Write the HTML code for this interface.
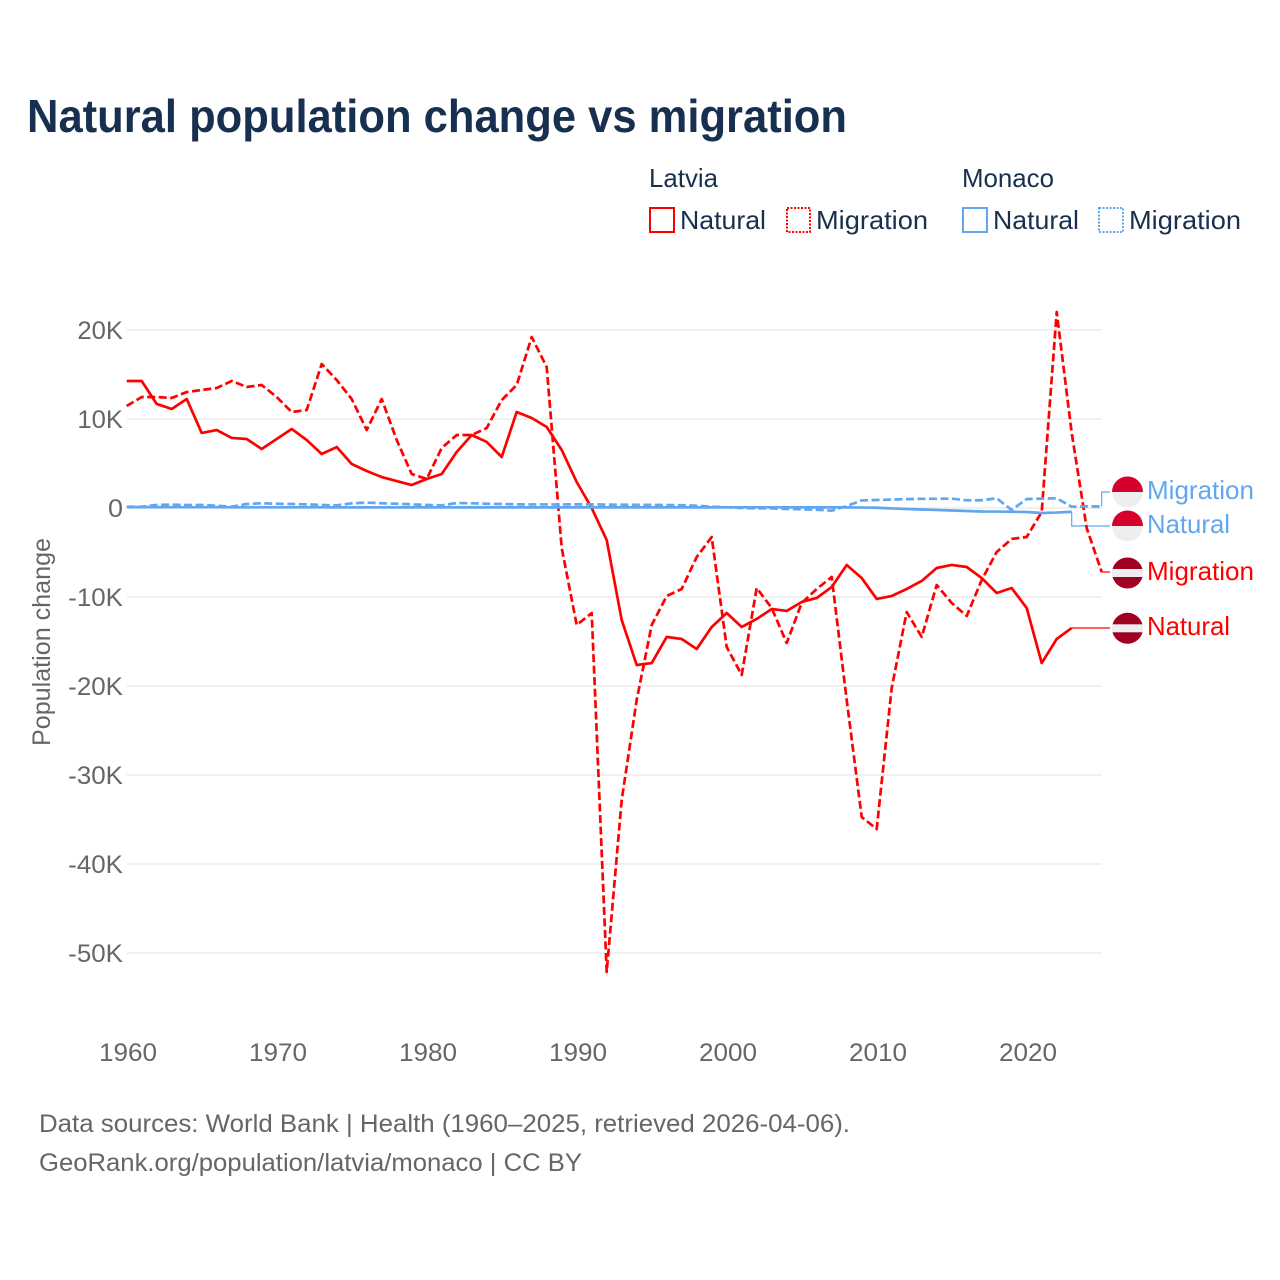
<!DOCTYPE html>
<html lang="en">
<head>
<meta charset="utf-8">
<title>Natural population change vs migration</title>
<style>
html,body{margin:0;padding:0;background:#fff;}
svg{display:block;font-family:"Liberation Sans",sans-serif;}
</style>
</head>
<body>
<svg id="chart" xmlns="http://www.w3.org/2000/svg" width="1280" height="1280" viewBox="0 0 1280 1280">
  <rect width="1280" height="1280" fill="#fff"/>
  <text x="27" y="132" font-size="46" font-weight="700" fill="#18304f" textLength="820" lengthAdjust="spacingAndGlyphs">Natural population change vs migration</text>

  <g font-size="26" fill="#18304f">
    <text x="649" y="187" textLength="69" lengthAdjust="spacingAndGlyphs">Latvia</text>
    <text x="962" y="187" textLength="92" lengthAdjust="spacingAndGlyphs">Monaco</text>
    <g>
      <rect x="650" y="208" width="24" height="24" fill="none" stroke="#ff0000" stroke-width="2"/>
      <text x="680" y="229" textLength="86" lengthAdjust="spacingAndGlyphs">Natural</text>
    </g>
    <g>
      <rect x="787" y="208" width="23" height="24" fill="none" stroke="#ff0000" stroke-width="2" stroke-dasharray="2 1.5"/>
      <text x="816" y="229" textLength="112" lengthAdjust="spacingAndGlyphs">Migration</text>
    </g>
    <g>
      <rect x="963" y="208" width="24" height="24" fill="none" stroke="#62a6ef" stroke-width="2"/>
      <text x="993" y="229" textLength="86" lengthAdjust="spacingAndGlyphs">Natural</text>
    </g>
    <g>
      <rect x="1099" y="208" width="24" height="24" fill="none" stroke="#62a6ef" stroke-width="2" stroke-dasharray="2 1.5"/>
      <text x="1129" y="229" textLength="112" lengthAdjust="spacingAndGlyphs">Migration</text>
    </g>
  </g>

  <g id="grid"></g>
  <g id="yticks" font-size="25" fill="#666"></g>
  <g id="xticks" font-size="25" fill="#666"></g>
  <text transform="translate(50,746) rotate(-90)" font-size="25" fill="#666" textLength="208" lengthAdjust="spacingAndGlyphs">Population change</text>

  <g id="series"></g>

  <g font-size="26">
    <g>
      <circle cx="1127.5" cy="492" r="15.5" fill="#eeeeee"/>
      <path d="M1112 492a15.5 15.5 0 0 1 31 0z" fill="#d6002c"/>
      <text x="1147" y="499" fill="#62a6ef" textLength="107" lengthAdjust="spacingAndGlyphs">Migration</text>
    </g>
    <g>
      <circle cx="1127.5" cy="526" r="15.5" fill="#eeeeee"/>
      <path d="M1112 526a15.5 15.5 0 0 1 31 0z" fill="#d6002c"/>
      <text x="1147" y="533" fill="#62a6ef" textLength="83" lengthAdjust="spacingAndGlyphs">Natural</text>
    </g>
    <g>
      <circle cx="1127.5" cy="573" r="15.5" fill="#a00022"/>
      <rect x="1112" y="569" width="31" height="8" fill="#eeeeee"/>
      <text x="1147" y="580" fill="#ff0000" textLength="107" lengthAdjust="spacingAndGlyphs">Migration</text>
    </g>
    <g>
      <circle cx="1127.5" cy="628.3" r="15.5" fill="#a00022"/>
      <rect x="1112" y="624.3" width="31" height="8" fill="#eeeeee"/>
      <text x="1147" y="635" fill="#ff0000" textLength="83" lengthAdjust="spacingAndGlyphs">Natural</text>
    </g>
  </g>

  <g font-size="25" fill="#666">
    <text x="39" y="1132" textLength="811" lengthAdjust="spacingAndGlyphs">Data sources: World Bank | Health (1960–2025, retrieved 2026-04-06).</text>
    <text x="39" y="1171" textLength="543" lengthAdjust="spacingAndGlyphs">GeoRank.org/population/latvia/monaco | CC BY</text>
  </g>
</svg>
<script>
const startYear = 1960;
const yTickValues = [20, 10, 0, -10, -20, -30, -40, -50];
const yTickLabels = ["20K", "10K", "0", "-10K", "-20K", "-30K", "-40K", "-50K"];
const xTickYears = [1960, 1970, 1980, 1990, 2000, 2010, 2020];

const latviaNatural = [14.27,14.27,11.69,11.12,12.25,8.43,8.76,7.87,7.75,6.63,
  7.75,8.88,7.64,6.07,6.85,4.94,4.16,3.48,3.03,2.58,
  3.26,3.82,6.29,8.2,7.42,5.73,10.79,10.11,9.1,6.52,
  2.92,0,-3.6,-12.58,-17.64,-17.42,-14.49,-14.72,-15.84,-13.37,
  -11.8,-13.37,-12.47,-11.35,-11.57,-10.56,-10.11,-8.88,-6.4,-7.87,
  -10.22,-9.89,-9.1,-8.2,-6.74,-6.4,-6.63,-7.87,-9.55,-8.99,
  -11.24,-17.42,-14.72,-13.48];

const latviaMigration = [11.46,12.47,12.47,12.36,13.03,13.26,13.48,14.27,13.6,13.82,
  12.47,10.79,11.01,16.18,14.38,12.25,8.76,12.25,7.64,3.82,
  3.26,6.74,8.2,8.2,8.99,12.13,13.82,19.21,15.84,-4.49,
  -13.15,-11.8,-52.13,-32.81,-21.57,-13.15,-9.89,-9.1,-5.51,-3.26,
  -15.62,-18.76,-8.99,-11.24,-15.17,-10.67,-9.1,-7.75,-21.57,-34.72,
  -36.07,-20.22,-11.69,-14.49,-8.65,-10.67,-12.13,-8.09,-4.94,-3.48,
  -3.26,-0.45,22.02,8.43,-2.25,-7.19];

const monacoNatural = [0.1,0.1,0.1,0.09,0.09,0.09,0.09,0.08,0.08,0.08,
  0.08,0.08,0.08,0.08,0.07,0.07,0.07,0.07,0.07,0.07,
  0.07,0.07,0.07,0.07,0.07,0.07,0.07,0.07,0.07,0.07,
  0.07,0.07,0.07,0.07,0.07,0.07,0.07,0.07,0.07,0.07,
  0.08,0.08,0.08,0.08,0.08,0.08,0.07,0.07,0.07,0.05,
  0.03,-0.05,-0.11,-0.17,-0.22,-0.28,-0.34,-0.39,-0.4,-0.42,
  -0.45,-0.56,-0.51,-0.42];

const monacoMigration = [0.15,0.15,0.34,0.37,0.34,0.34,0.26,0.15,0.45,0.53,
  0.48,0.45,0.41,0.34,0.3,0.53,0.6,0.53,0.48,0.41,
  0.34,0.3,0.56,0.53,0.48,0.45,0.41,0.4,0.4,0.4,
  0.41,0.4,0.38,0.37,0.36,0.35,0.33,0.31,0.25,0.15,
  0.08,0,-0.03,-0.05,-0.1,-0.15,-0.2,-0.3,0.22,0.85,
  0.9,0.95,1,1.03,1.03,1.05,0.87,0.87,1.09,-0.22,
  1.01,1.05,1.09,0.15,0.19,0.17];

const NS = "http://www.w3.org/2000/svg";
function xScale(year) { return 126.7 + (year - startYear) * 15; }
function yScale(value) { return 508 - value * 8.9; }

const gridGroup = document.getElementById("grid");
const yTickGroup = document.getElementById("yticks");
const xTickGroup = document.getElementById("xticks");
const seriesGroup = document.getElementById("series");

yTickValues.forEach(function (value, i) {
  const line = document.createElementNS(NS, "line");
  
  
  line.setAttribute("x1", xScale(1960));
  line.setAttribute("x2", xScale(2025));
  line.setAttribute("y1", yScale(value));
  line.setAttribute("y2", yScale(value));
  line.setAttribute("stroke", "#e7e7e7");
  line.setAttribute("stroke-width", "1.2");
  gridGroup.appendChild(line);

  const label = document.createElementNS(NS, "text");
  
  
  label.setAttribute("x", 123);
  label.setAttribute("y", yScale(value) + 9);
  label.setAttribute("text-anchor", "end");
  const widthPerChar = yTickLabels[i].length === 1 ? 15 : 15.2;
  label.setAttribute("textLength", yTickLabels[i].length * widthPerChar - (yTickLabels[i][0] === "-" ? 6 : 0));
  label.setAttribute("lengthAdjust", "spacingAndGlyphs");
  label.textContent = yTickLabels[i];
  yTickGroup.appendChild(label);
});

xTickYears.forEach(function (year) {
  const label = document.createElementNS(NS, "text");
  
  
  label.setAttribute("x", xScale(year) + 1.3);
  label.setAttribute("y", 1061);
  label.setAttribute("text-anchor", "middle");
  label.setAttribute("textLength", 58);
  label.setAttribute("lengthAdjust", "spacingAndGlyphs");
  label.textContent = String(year);
  xTickGroup.appendChild(label);
});

function pointsFor(values) {
  return values.map(function (v, i) {
    return xScale(startYear + i).toFixed(2) + "," + yScale(v).toFixed(2);
  }).join(" ");
}

function drawSeries(values, color, dashed, seriesName) {
  const line = document.createElementNS(NS, "polyline");
  
  
  line.setAttribute("points", pointsFor(values));
  line.setAttribute("fill", "none");
  line.setAttribute("stroke", color);
  line.setAttribute("stroke-width", "2.7");
  line.setAttribute("stroke-linejoin", "round");
  if (dashed) line.setAttribute("stroke-dasharray", "8 3.5");
  seriesGroup.appendChild(line);
}

function drawConnector(values, labelY, color, connectorName) {
  const lastIndex = values.length - 1;
  const sx = xScale(startYear + lastIndex);
  const sy = yScale(values[lastIndex]);
  const path = document.createElementNS(NS, "polyline");
  
  
  path.setAttribute("points", sx + "," + sy + " " + sx + "," + labelY + " " + 1110 + "," + labelY);
  path.setAttribute("fill", "none");
  path.setAttribute("stroke", color);
  path.setAttribute("stroke-width", "1.2");
  seriesGroup.appendChild(path);
}

drawConnector(monacoMigration, 492, "#62a6ef", "connector-monaco-migration");
drawConnector(monacoNatural, 526, "#62a6ef", "connector-monaco-natural");
drawConnector(latviaMigration, yScale(latviaMigration[latviaMigration.length - 1]), "#ff0000", "connector-latvia-migration");
drawConnector(latviaNatural, yScale(latviaNatural[latviaNatural.length - 1]), "#ff0000", "connector-latvia-natural");

drawSeries(latviaNatural, "#ff0000", false, "line-latvia-natural");
drawSeries(latviaMigration, "#ff0000", true, "line-latvia-migration");
drawSeries(monacoNatural, "#62a6ef", false, "line-monaco-natural");
drawSeries(monacoMigration, "#62a6ef", true, "line-monaco-migration");
</script>
</body>
</html>
